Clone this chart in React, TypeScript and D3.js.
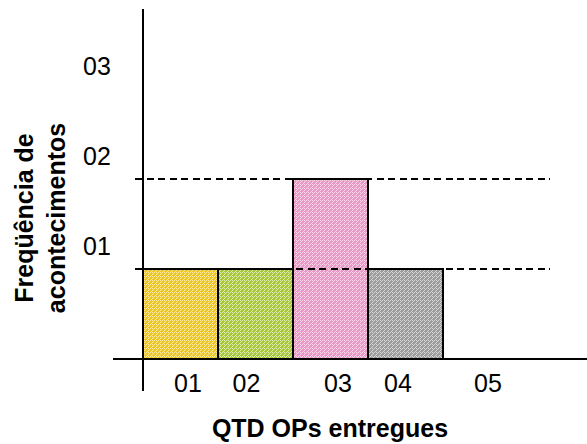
import React from "react";
import * as d3 from "d3";

// Histogram: number of occurrences per quantity of delivered OPs
const categories = ["01", "02", "03", "04", "05"];
const counts = [1, 1, 2, 1, 0];
const yTicks = [1, 2, 3];
const yTickLabels = ["01", "02", "03"];
const gridValues = [1, 2];

const xTitle = "QTD OPs entregues";
const yTitleLines = ["Freqüência de", "acontecimentos"];

// Fill palette for the bars: [base, light speckle]
const palette: [string, string][] = [
  ["#ecc62a", "#f8e8a0"],
  ["#a8c63a", "#dcebb0"],
  ["#e898c4", "#f8d6e8"],
  ["#9c9c9c", "#d4d4d4"],
  ["#9c9c9c", "#d4d4d4"],
];

const W = 587;
const H = 444;
const FONT = "'Liberation Sans', Arial, Helvetica, sans-serif";

// Layout of the plotting area
const x0 = 143;
const barW = 75;
const baseY = 359;
const unitH = 90;

// Tick label centres along the x axis (in bar units)
const xLabelAt = [0.6, 1.38, 2.6, 3.4, 4.6];

export default function App() {
  const x = d3.scaleLinear().domain([0, 1]).range([x0, x0 + barW]);
  const y = d3.scaleLinear().domain([0, 1]).range([baseY, baseY - unitH]);

  const bars = categories
    .map((c, i) => ({ c, v: counts[i], i }))
    .filter((d) => d.v > 0);

  return (
    <svg
      width={W}
      height={H}
      style={{ position: "absolute", left: 0, top: 0, background: "#fff" }}
      fontFamily={FONT}
    >
      <defs>
        {palette.map(([base, light], i) => (
          <pattern
            key={i}
            id={`speckle${i}`}
            width={4}
            height={4}
            patternUnits="userSpaceOnUse"
          >
            <rect width={4} height={4} fill={base} />
            <rect x={0} y={0} width={1} height={1} fill={light} />
            <rect x={2} y={0} width={1} height={1} fill={light} />
            <rect x={1} y={1} width={1} height={1} fill={light} />
            <rect x={3} y={3} width={1} height={1} fill={light} />
            <rect x={0} y={2} width={1} height={1} fill={light} />
          </pattern>
        ))}
      </defs>

      {/* bars */}
      {bars.map((d) => (
        <rect
          key={d.c}
          x={x(d.i)}
          y={y(d.v)}
          width={x(d.i + 1) - x(d.i)}
          height={y(0) - y(d.v)}
          fill={`url(#speckle${d.i})`}
          stroke="#000"
          strokeWidth={2}
        />
      ))}

      {/* dashed reference lines */}
      {gridValues.map((v) => (
        <line
          key={v}
          x1={x0 - 8}
          x2={550}
          y1={y(v)}
          y2={y(v)}
          stroke="#000"
          strokeWidth={1.5}
          strokeDasharray="7,4.5"
          shapeRendering="crispEdges"
        />
      ))}

      {/* axes */}
      <line x1={113} x2={W} y1={y(0)} y2={y(0)} stroke="#000" strokeWidth={2} />
      <line x1={x0} x2={x0} y1={9} y2={391} stroke="#000" strokeWidth={2} />

      {/* y tick labels */}
      {yTicks.map((v, i) => (
        <text
          key={v}
          x={97}
          y={y(v) - 14}
          fontSize={25}
          textAnchor="middle"
          fill="#000"
        >
          {yTickLabels[i]}
        </text>
      ))}

      {/* x tick labels */}
      {categories.map((c, i) => (
        <text
          key={c}
          x={x(xLabelAt[i])}
          y={392}
          fontSize={25}
          textAnchor="middle"
          fill="#000"
        >
          {c}
        </text>
      ))}

      {/* axis titles */}
      <text
        x={330}
        y={437}
        fontSize={25}
        fontWeight="bold"
        textAnchor="middle"
        fill="#000"
      >
        {xTitle}
      </text>
      {yTitleLines.map((t, i) => (
        <text
          key={t}
          transform={`translate(${33 + i * 32},218) rotate(-90)`}
          fontSize={25}
          fontWeight="bold"
          textAnchor="middle"
          fill="#000"
        >
          {t}
        </text>
      ))}
    </svg>
  );
}
